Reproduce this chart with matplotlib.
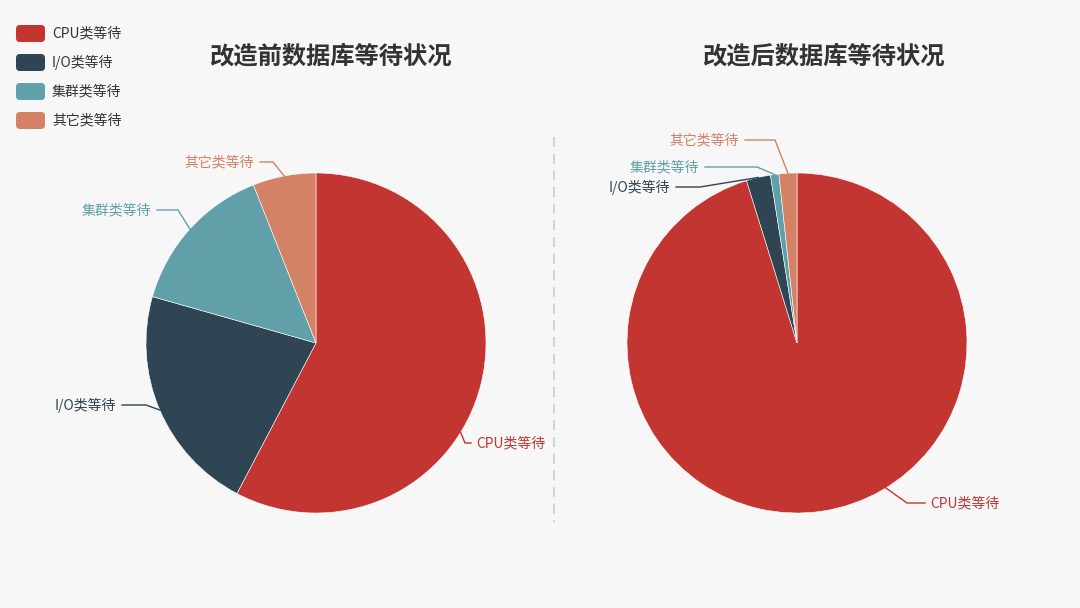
import matplotlib.pyplot as plt
import numpy as np
from matplotlib.patches import FancyBboxPatch

plt.rcParams['font.family'] = ['Noto Sans CJK SC', 'DejaVu Sans']

# data
categories = ['CPU类等待', 'I/O类等待', '集群类等待', '其它类等待']
colors = ['#c23531', '#2f4554', '#61a0a8', '#d48265']
before = [57.7, 21.7, 14.6, 6.0]
after = [95.2, 2.3, 0.8, 1.7]
titles = ['改造前数据库等待状况', '改造后数据库等待状况']

bg = '#f7f7f7'
fig = plt.figure(figsize=(10.8, 6.08), dpi=100)
fig.patch.set_facecolor(bg)
ax = fig.add_axes([0, 0, 1, 1])
ax.set_facecolor(bg)

centers = [(316, 343), (797, 343)]
R = 170
title_x = [330, 823]

# label lines: (anchor angle or None = middle of slice, elbow, line end)
layouts = [
    [(31.7, (465, 443), (471, 443)),
     (None, (146, 405), (122, 405)),
     (None, (178, 210), (157, 210)),
     (None, (273, 162), (260, 162))],
    [(58.5, (907, 503), (925, 503)),
     (None, (700, 187), (676, 187)),
     (None, (757, 167), (705, 167)),
     (None, (775, 140), (745, 140))],
]

for k, vals in enumerate([before, after]):
    cx, cy = centers[k]
    wedges, _ = ax.pie(vals, colors=colors, center=(cx, cy), radius=R,
                       startangle=-90, counterclock=True,
                       wedgeprops=dict(edgecolor='white', linewidth=0.4))
    for i, w in enumerate(wedges):
        ang, elbow, end = layouts[k][i]
        if ang is None:
            ang = (w.theta1 + w.theta2) / 2
        a = np.deg2rad(ang)
        x0 = cx + R * np.cos(a)
        y0 = cy + R * np.sin(a)
        ax.plot([x0, elbow[0], end[0]], [y0, elbow[1], end[1]],
                color=colors[i], lw=1)
        if end[0] > elbow[0]:
            ax.text(end[0] + 5, end[1], categories[i], color=colors[i],
                    fontsize=10, ha='left', va='center')
        else:
            ax.text(end[0] - 6, end[1], categories[i], color=colors[i],
                    fontsize=10, ha='right', va='center')
    ax.text(title_x[k], 56, titles[k], fontsize=17.5, fontweight='bold',
            color='#333333', ha='center', va='center')

# divider
ax.plot([554, 554], [137, 522], color='#cccccc', lw=1.2, linestyle=(0, (6, 4)))

# legend
for i, name in enumerate(categories):
    yc = 33.5 + 29 * i
    box = FancyBboxPatch((16, yc - 8.5), 29, 17,
                         boxstyle='round,pad=0,rounding_size=4',
                         facecolor=colors[i], edgecolor='none')
    ax.add_patch(box)
    ax.text(52, yc, name, fontsize=10, color='#333333', ha='left', va='center')

ax.set_xlim(0, 1080)
ax.set_ylim(608, 0)
ax.set_axis_off()

fig.savefig('out.png', dpi=100, facecolor=bg)
